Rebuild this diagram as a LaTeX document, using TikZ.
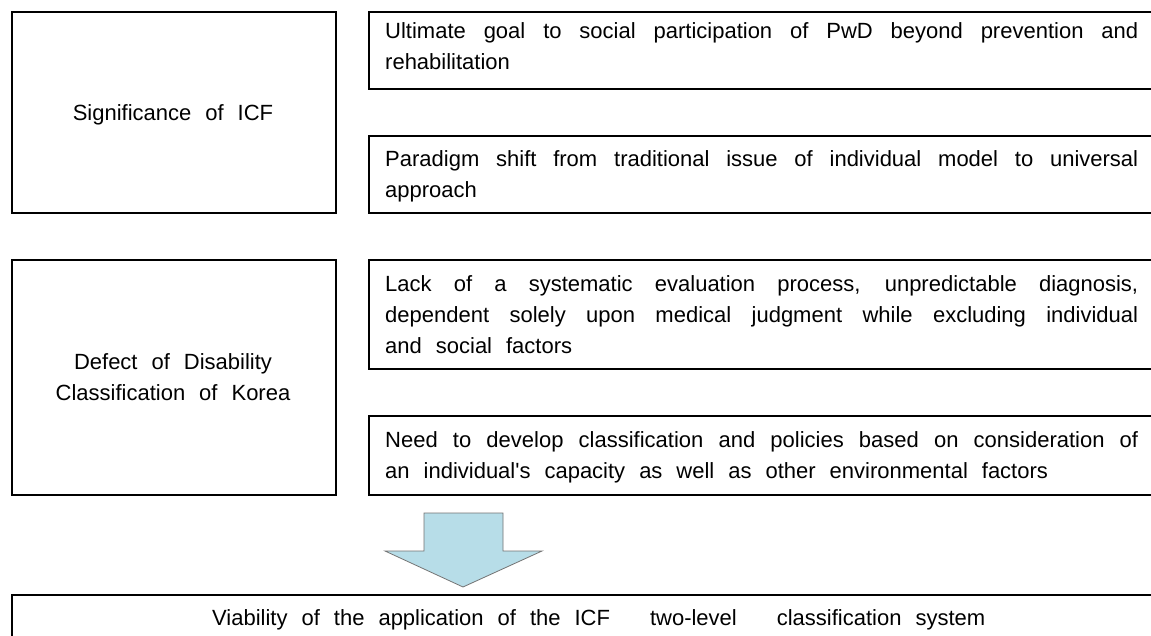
\documentclass[tikz,border=0pt]{standalone}
\usepackage{fontspec}
\setmainfont{Liberation Sans}
\definecolor{arrowblue}{RGB}{183,221,232}
\newcommand\fsz{\fontsize{22pt}{31pt}\selectfont\spaceskip=14pt plus 60pt minus 4pt\relax}
\newcommand\jl[1]{\hbox to 753pt{#1}}
\newcommand\nl[1]{\hbox{#1}}
\newcommand\cl[1]{\hbox to 0pt{\hss#1\hss}}
\hbadness=10000
\begin{document}
\begin{tikzpicture}[x=1pt,y=-1pt,
  box/.style={draw=black,line width=2.2pt,anchor=north west,inner sep=0pt,fill=white},
  txt/.style={anchor=base west,inner sep=0pt,font=\fsz},
  ctxt/.style={anchor=base,inner sep=0pt,font=\fsz},
  blockarrow/.style={fill=arrowblue,draw=black!55,line width=0.8pt,line join=miter}]
\path[use as bounding box,clip] (0,0) rectangle (1151,636);
\fill[white] (0,0) rectangle (1151,636);

% left boxes
\node[box,minimum width=324pt,minimum height=201pt] (sig) at (11,11) {};
\node[box,minimum width=324pt,minimum height=235pt] (def) at (11,259) {};
% right boxes
\node[box,minimum width=820pt,minimum height=77pt] (ult) at (368,11) {};
\node[box,minimum width=820pt,minimum height=77pt] (par) at (368,135) {};
\node[box,minimum width=820pt,minimum height=109pt] (lack) at (368,259) {};
\node[box,minimum width=820pt,minimum height=79pt] (need) at (368,415) {};
% bottom box
\node[box,minimum width=1200pt,minimum height=80pt] (via) at (11,594) {};

% texts
\node[ctxt] (sigT) at (173,121) {Significance of ICF};
\node[ctxt] (defT) at (173,369) {\vtop{\cl{Defect of Disability}\cl{Classification of Korea}}};

\node[txt] (ultT) at (385,39) {\vtop{%
  \jl{Ultimate goal to social participation of PwD beyond prevention and}
  \nl{rehabilitation}}};
\node[txt] (parT) at (385,167) {\vtop{%
  \jl{Paradigm shift from traditional issue of individual model to universal}
  \nl{approach}}};
\node[txt] (lackT) at (385,292) {\vtop{%
  \jl{Lack of a systematic evaluation process, unpredictable diagnosis,}
  \jl{dependent solely upon medical judgment while excluding individual}
  \nl{and social factors}}};
\node[txt] (needT) at (385,447) {\vtop{%
  \jl{Need to develop classification and policies based on consideration of}
  \nl{an individual\textquotesingle s capacity as well as other environmental factors}}};
\node[txt] (viaT) at (212,625) {Viability of the application of the ICF\hspace{26pt} two-level\hspace{26pt} classification system};

% block arrow
\coordinate (tip) at (463,587);
\draw[blockarrow] (424,513) -- (503,513) -- (503,551) -- (542,551) -- (tip) -- (385,551) -- (424,551) -- cycle;
\end{tikzpicture}
\end{document}
